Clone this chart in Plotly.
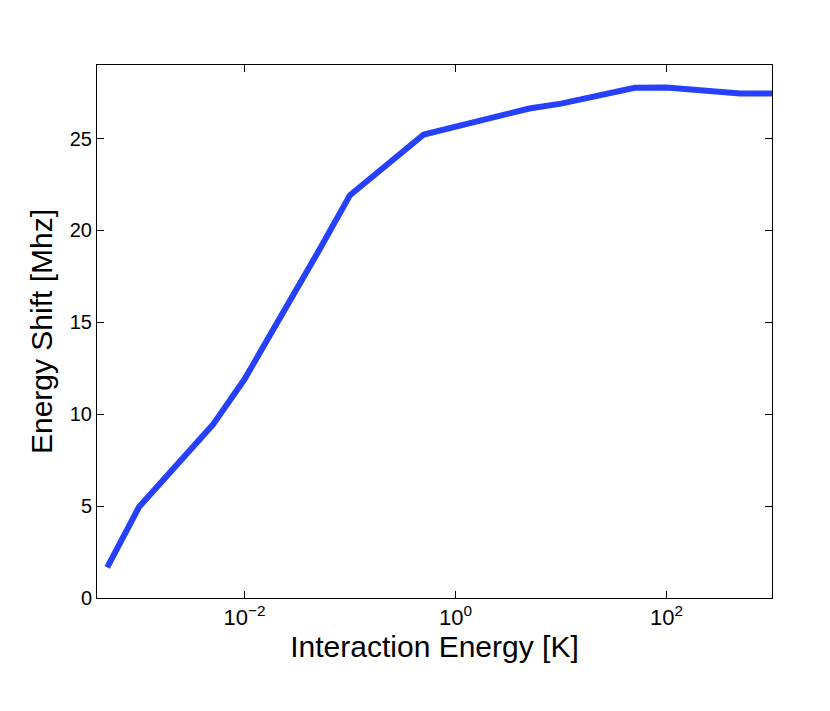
import numpy as np
import plotly.graph_objects as go

# energia de interacao [K] e deslocamento [MHz]
interaction_energy = [5e-4, 1e-3, 5e-3, 1e-2, 5e-2, 0.1, 0.5, 5, 10, 50, 100, 500, 1000]
energy_shift = [1.67, 4.95, 9.42, 11.9, 18.84, 21.92, 25.22, 26.63, 26.9, 27.76, 27.78, 27.45, 27.45]

x_tickvals = [1e-2, 1, 1e2]
x_ticktext = ["10<sup>−2</sup>", "10<sup>0</sup>", "10<sup>2</sup>"]
y_tickvals = [0, 5, 10, 15, 20, 25]

COR_LINHA = '#2640ff'
FONTE = 'Liberation Sans, Arial, sans-serif'

fig = go.Figure()
fig.add_trace(go.Scatter(
    x=interaction_energy, y=energy_shift,
    mode='lines',
    line=dict(color=COR_LINHA, width=6),
    showlegend=False,
))

eixo = dict(
    showgrid=False, zeroline=False,
    showline=True, linecolor='black', linewidth=1, mirror='allticks',
    ticks='inside', ticklen=7, tickcolor='black', tickwidth=1,
)

fig.update_layout(
    width=830, height=711,
    paper_bgcolor='white', plot_bgcolor='white',
    margin=dict(l=89, r=66, t=57, b=121),
    font=dict(family=FONTE, color='black', size=20),
    xaxis=dict(
        type='log', range=[np.log10(4e-4), 3],
        tickvals=x_tickvals, ticktext=x_ticktext,
        tickfont=dict(family=FONTE, size=22, color='black'),
        title=dict(text='Interaction Energy [K]', font=dict(family=FONTE, size=30), standoff=2),
        **eixo,
    ),
    yaxis=dict(
        range=[0, 29],
        tickvals=y_tickvals,
        tickfont=dict(family=FONTE, size=20, color='black'),
        title=dict(text='Energy Shift [Mhz]', font=dict(family=FONTE, size=30), standoff=8),
        **eixo,
    ),
)

fig.write_html("out.html")
